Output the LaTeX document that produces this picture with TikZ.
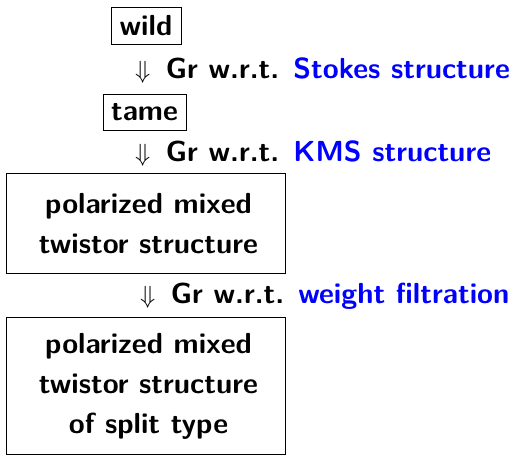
\documentclass[tikz,border=0pt]{standalone}
\definecolor{linkblue}{RGB}{0,0,255}
\newcommand{\bluetxt}[1]{\textcolor{linkblue}{#1}}
\tikzset{
  x=1pt, y=1pt,
  lbl/.style={font=\sffamily\bfseries\fontsize{29}{40}\selectfont, inner sep=0pt},
  boxnode/.style={draw, line width=0.9pt, font=\sffamily\bfseries\fontsize{29}{40}\selectfont, align=center, inner sep=0pt},
  frame/.style={draw, line width=0.9pt, inner sep=0pt},
  boxtext/.style={font=\sffamily\bfseries\fontsize{29}{40}\selectfont, align=center, inner sep=0pt},
  steplbl/.style={lbl, anchor=base west},
}
\begin{document}
\begin{tikzpicture}
\useasboundingbox (0,0) rectangle (512,-455);
\node[boxnode, minimum width=70pt, minimum height=37pt] (wild) at (146,-25.5) {wild};
\node[steplbl] (s1) at (135,-78) {$\Downarrow$\, Gr w.r.t. \bluetxt{Stokes structure}};
\node[boxnode, minimum width=83pt, minimum height=36pt] (tame) at (144.5,-112) {tame};
\node[steplbl] (s2) at (135,-161) {$\Downarrow$\, Gr w.r.t. \bluetxt{KMS structure}};
\node[frame, minimum width=279pt, minimum height=100pt] (pmts) at (145.5,-223) {};
\node[boxtext] (pmtstext) at ([xshift=3pt,yshift=-1pt]pmts.center) {polarized mixed\\twistor structure};
\node[steplbl] (s3) at (140,-303) {$\Downarrow$\, Gr w.r.t. \bluetxt{weight filtration}};
\node[frame, minimum width=279pt, minimum height=137pt] (split) at (145.5,-385.5) {};
\node[boxtext] (splittext) at ([xshift=3pt,yshift=-1pt]split.center) {polarized mixed\\twistor structure\\of split type};
\end{tikzpicture}
\end{document}
